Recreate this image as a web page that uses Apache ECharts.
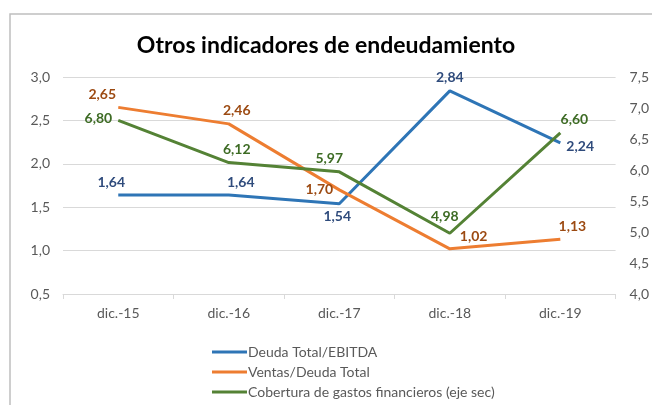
<!DOCTYPE html>
<html>
<head>
    <meta charset="utf-8">
    <title>Otros indicadores de endeudamiento</title>
    <script src="https://cdn.jsdelivr.net/npm/echarts@6/dist/echarts.min.js"></script>
    <style>
    html, body { margin: 0; padding: 0; background: #fff; }
    #main { width: 652px; height: 405px; }
    </style>
</head>
<body>
    <div id="main"></div>
    <script>
    // datos
    const categorias = ['dic.-15', 'dic.-16', 'dic.-17', 'dic.-18', 'dic.-19'];
    const deudaEbitda = [1.64, 1.64, 1.54, 2.84, 2.24];
    const ventasDeuda = [2.65, 2.46, 1.70, 1.02, 1.13];
    const cobertura = [6.80, 6.12, 5.97, 4.98, 6.60];

    // posicion de cada etiqueta (como en el original de Excel)
    const posDeuda = ['top', 'top', 'bottom', 'top', 'right'];
    const offDeuda = [[-7, 0], [12, 0], [-2, 0], [0, 0], [0, 4]];
    const posVentas = ['top', 'top', 'left', 'right', 'top'];
    const offVentas = [[-16, 0], [8, 0], [0, 0], [4, -12], [12, 0]];
    const posCobertura = ['left', 'top', 'top', 'top', 'top'];
    const offCobertura = [[0, -2], [8, 0], [-10, 0], [-5, -4], [14, 0]];

    const fmt = v => v.toFixed(2).replace('.', ',');
    const fuente = 'Lato, "Open Sans", sans-serif';

    function puntos(valores, posiciones, desplaz, color) {
        return valores.map((v, i) => ({
            value: v,
            label: {
                show: true,
                position: posiciones[i],
                offset: desplaz[i],
                distance: 6,
                color: color,
                fontWeight: 'bold',
                fontSize: 14,
                fontFamily: fuente,
                formatter: p => fmt(p.value)
            }
        }));
    }

    const myChart = echarts.init(document.getElementById('main'));
    const option = {
        backgroundColor: '#fff',
        animation: false,
        graphic: [{
            type: 'rect',
            shape: { x: 10, y: 14, width: 700, height: 500 },
            style: { fill: 'none', stroke: '#bfbfbf', lineWidth: 1.5 },
            silent: true
        }],
        title: {
            text: 'Otros indicadores de endeudamiento',
            left: 'center',
            top: 29,
            textStyle: { fontFamily: fuente, fontSize: 23, fontWeight: 'bold', color: '#000' }
        },
        legend: {
            orient: 'vertical',
            left: 207,
            top: 340,
            icon: 'rect',
            itemWidth: 35,
            itemHeight: 3,
            itemGap: 6,
            textStyle: { fontFamily: fuente, fontSize: 14, color: '#595959', padding: [0, 0, 0, -4] },
            data: ['Deuda Total/EBITDA', 'Ventas/Deuda Total', 'Cobertura de gastos financieros (eje sec)']
        },
        grid: { left: 63, right: 34, top: 77, bottom: 111 },
        xAxis: {
            type: 'category',
            data: categorias,
            boundaryGap: true,
            axisLine: { lineStyle: { color: '#d9d9d9' } },
            axisTick: { show: true, length: 5, lineStyle: { color: '#d9d9d9' } },
            axisLabel: { color: '#595959', fontFamily: fuente, fontSize: 14, margin: 12 }
        },
        yAxis: [{
            type: 'value',
            min: 0.5,
            max: 3.0,
            interval: 0.5,
            axisLine: { show: false },
            axisTick: { show: false },
            splitLine: { lineStyle: { color: '#d9d9d9' } },
            axisLabel: { color: '#595959', fontFamily: fuente, fontSize: 14, margin: 13, formatter: v => v.toFixed(1).replace('.', ',') }
        }, {
            type: 'value',
            min: 4.0,
            max: 7.5,
            interval: 0.5,
            axisLine: { show: false },
            axisTick: { show: false },
            splitLine: { show: false },
            axisLabel: { color: '#595959', fontFamily: fuente, fontSize: 14, margin: 14, formatter: v => v.toFixed(1).replace('.', ',') }
        }],
        series: [{
            name: 'Deuda Total/EBITDA',
            type: 'line',
            yAxisIndex: 0,
            showSymbol: true,
            symbol: 'circle',
            symbolSize: 0.1,
            color: '#2e75b6',
            lineStyle: { width: 3, color: '#2e75b6' },
            data: puntos(deudaEbitda, posDeuda, offDeuda, '#2f4b7c')
        }, {
            name: 'Ventas/Deuda Total',
            type: 'line',
            yAxisIndex: 0,
            showSymbol: true,
            symbol: 'circle',
            symbolSize: 0.1,
            color: '#ed7d31',
            lineStyle: { width: 3, color: '#ed7d31' },
            data: puntos(ventasDeuda, posVentas, offVentas, '#9c4a12')
        }, {
            name: 'Cobertura de gastos financieros (eje sec)',
            type: 'line',
            yAxisIndex: 1,
            showSymbol: true,
            symbol: 'circle',
            symbolSize: 0.1,
            color: '#548235',
            lineStyle: { width: 3, color: '#548235' },
            data: puntos(cobertura, posCobertura, offCobertura, '#3d6b24')
        }]
    };
    myChart.setOption(option);
    </script>
</body>
</html>
